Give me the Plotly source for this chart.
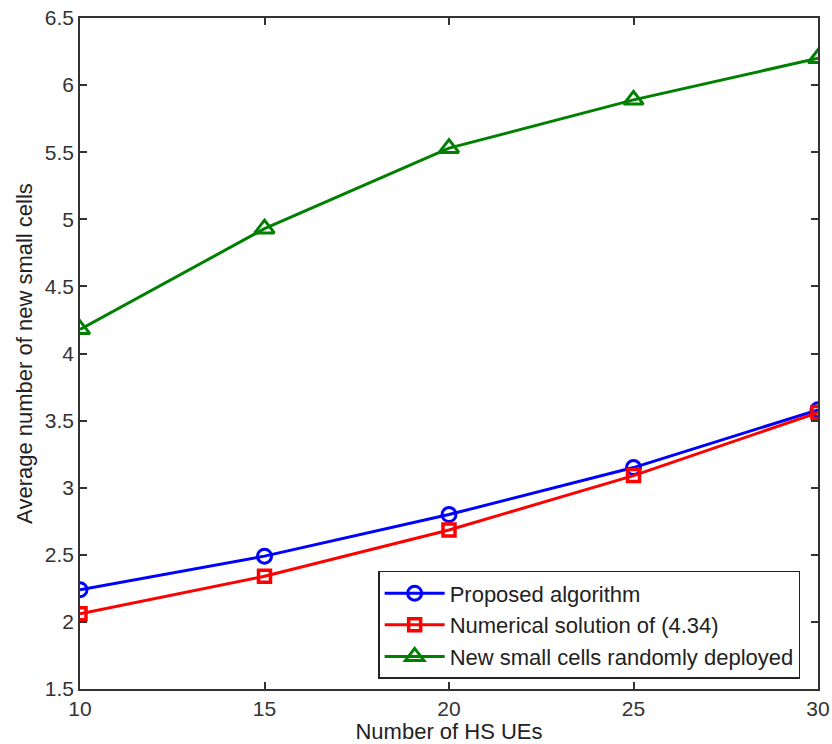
import plotly.graph_objects as go

# Number of HS UEs
hs_ues = [10, 15, 20, 25, 30]

# Average number of new small cells per scheme
proposed = [2.24, 2.49, 2.80, 3.15, 3.58]
numerical = [2.06, 2.34, 2.685, 3.09, 3.56]
random_deploy = [4.18, 4.93, 5.53, 5.89, 6.20]

x_ticks = [10, 15, 20, 25, 30]
y_ticks = [1.5, 2, 2.5, 3, 3.5, 4, 4.5, 5, 5.5, 6, 6.5]

font_family = "Liberation Sans, Arial, sans-serif"

fig = go.Figure()

fig.add_trace(go.Scatter(
    x=hs_ues, y=proposed, mode="lines+markers", name="Proposed algorithm",
    line=dict(color="#0000ff", width=3),
    marker=dict(symbol="circle-open", size=14, color="#0000ff", line=dict(width=3)),
))
fig.add_trace(go.Scatter(
    x=hs_ues, y=numerical, mode="lines+markers", name="Numerical solution of (4.34)",
    line=dict(color="#ff0000", width=3),
    marker=dict(symbol="square-open", size=12, color="#ff0000", line=dict(width=3.5)),
))
fig.add_trace(go.Scatter(
    x=hs_ues, y=random_deploy, mode="lines+markers", name="New small cells randomly deployed",
    line=dict(color="#008000", width=3),
    marker=dict(symbol="triangle-up-open", size=17, color="#008000", line=dict(width=3)),
))

axis_common = dict(
    showgrid=False, zeroline=False, showline=True, mirror="ticks",
    linecolor="#333333", linewidth=1.5, ticks="inside", ticklen=7,
    tickcolor="#333333", tickwidth=1.5, automargin=False,
    tickfont=dict(family=font_family, size=21, color="#333333"),
)

fig.update_xaxes(
    range=[10, 30], tickvals=x_ticks, ticktext=[str(v) for v in x_ticks],
    title=dict(text="Number of HS UEs", font=dict(family=font_family, size=22, color="#222222"),
               standoff=2),
    **axis_common,
)
fig.update_yaxes(
    range=[1.5, 6.5], tickvals=y_ticks, ticktext=[f"{v:g}" for v in y_ticks],
    title=dict(text="Average number of new small cells",
               font=dict(family=font_family, size=22, color="#222222"), standoff=6),
    **axis_common,
)

fig.update_layout(
    width=832, height=744,
    margin=dict(l=80, r=14, t=18, b=55),
    plot_bgcolor="white", paper_bgcolor="white",
    font=dict(family=font_family, size=21, color="#222222"),
    legend=dict(
        x=0.404, y=0.015, xanchor="left", yanchor="bottom",
        bgcolor="white", bordercolor="#222222", borderwidth=1.5,
        font=dict(family=font_family, size=22, color="#222222"),
        itemwidth=60, tracegroupgap=0,
    ),
    showlegend=True,
)

fig.write_html("out.html")
